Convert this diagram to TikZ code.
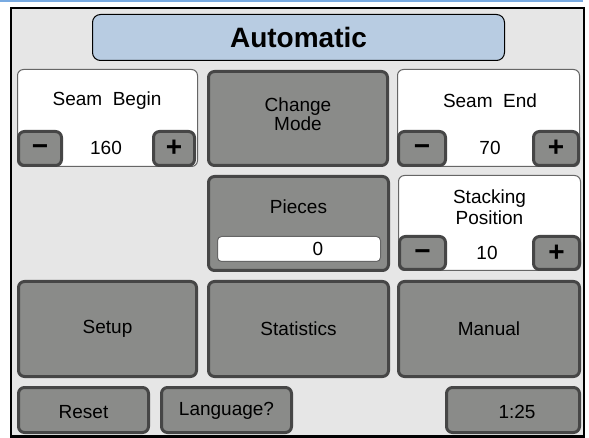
\documentclass[tikz,border=0pt]{standalone}
\usepackage{fontspec}
\setmainfont{Liberation Sans}
\definecolor{panelbg}{RGB}{230,230,230}
\definecolor{btnfill}{RGB}{138,139,137}
\definecolor{btnedge}{RGB}{70,70,70}
\definecolor{titlefill}{RGB}{184,204,226}
\definecolor{topline}{RGB}{120,170,225}
\tikzset{
  btn/.style={draw=btnedge, fill=btnfill, line width=3pt, rounded corners=6pt,
    align=center, font=\fontsize{19}{19.5}\selectfont, inner sep=0pt},
  field/.style={draw=black!60, fill=white, line width=1pt, rounded corners=6pt, inner sep=0pt},
  lbl/.style={align=center, font=\fontsize{19}{20.5}\selectfont, inner sep=0pt},
  sign/.style={btn, font=\fontsize{28}{28}\selectfont\bfseries}
}
\newcommand{\minussign}{\raisebox{-7.5pt}[0pt][0pt]{\char"2212}}

\begin{document}
\begin{tikzpicture}[x=1pt, y=-1pt]
    \useasboundingbox (0,0) rectangle (589,438);
    \draw [topline, line width=2pt] (0,1) -- (583,1);
    \draw [black, fill=panelbg, line width=2.5pt] (11,8) rectangle (584,436.5);
    \node [draw=black, fill=titlefill, line width=1pt, rounded corners=8pt,
           minimum width=412pt, minimum height=46pt,
           font=\fontsize{28}{30}\selectfont\bfseries] (title) at (298.5,37.5) {Automatic};

    \node [field, minimum width=180pt, minimum height=97pt] (seambegin) at (107.5,118) {};
    \node [lbl] (seambeginlbl) at (107,101) {Seam\ \ Begin};
    \node [sign, minimum width=43pt, minimum height=34pt] (seambeginminus) at (40,148.5) {\minussign};
    \node [sign, minimum width=41pt, minimum height=34pt] (seambeginplus) at (174,148.5) {+};
    \node [lbl] (seambeginval) at (106,148) {160};

    \node [btn, minimum width=179pt, minimum height=94pt] (changemode) at (298,118.5) {};
    \node [lbl] (changemodelbl) at (298,114.5) {Change\\[-1.5pt]Mode};

    \node [field, minimum width=182pt, minimum height=97pt] (seamend) at (488.5,118) {};
    \node [lbl] (seamendlbl) at (490,101) {Seam\ \ End};
    \node [sign, minimum width=47pt, minimum height=34pt] (seamendminus) at (422,148.5) {\minussign};
    \node [sign, minimum width=45pt, minimum height=34pt] (seamendplus) at (556,148.5) {+};
    \node [lbl] (seamendval) at (490,148) {70};

    \node [btn, minimum width=180pt, minimum height=94pt] (pieces) at (298.5,223.5) {};
    \node [lbl] (pieceslbl) at (298.5,207) {Pieces};
    \node [field, rounded corners=4pt, minimum width=163pt, minimum height=25pt] (piecesfield) at (299,249) {};
    \node [lbl] (piecesval) at (318,249) {0};

    \node [field, minimum width=182pt, minimum height=95pt] (stackpos) at (489.5,223) {};
    \node [lbl] (stackposlbl) at (489.5,207) {Stacking\\Position};
    \node [sign, minimum width=46pt, minimum height=33pt] (stackposminus) at (422.5,253) {\minussign};
    \node [sign, minimum width=46pt, minimum height=33pt] (stackposplus) at (556.5,253) {+};
    \node [lbl] (stackposval) at (487,253) {10};

    \node [btn, minimum width=178pt, minimum height=95pt] (setup) at (107.5,329) {Setup};
    \node [btn, minimum width=180pt, minimum height=95pt] (statistics) at (298.5,329) {Statistics};
    \node [btn, minimum width=181pt, minimum height=95pt] (manual) at (489,329) {Manual};

    \node [btn, minimum width=130pt, minimum height=45pt] (reset) at (83.5,410) {};
    \node [lbl] (resetlbl) at (83.5,412) {Reset};
    \node [btn, minimum width=130pt, minimum height=45pt] (language) at (226.5,410) {};
    \node [lbl] (languagelbl) at (226.5,410.5) {Language?};
    \node [btn, minimum width=133pt, minimum height=45pt] (clock) at (513,410) {};
    \node [lbl] (clockval) at (517,412) {1:25};
\end{tikzpicture}
\end{document}
